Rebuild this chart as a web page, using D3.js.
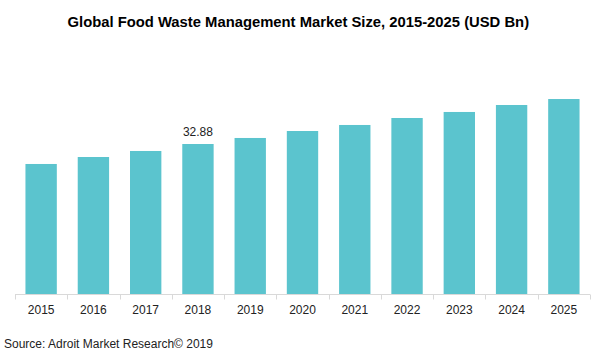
<!DOCTYPE html>
<html><head><meta charset="utf-8">
<script src="https://cdn.jsdelivr.net/npm/d3@7"></script>
<style>body{margin:0;background:#fff}svg{display:block}text{font-family:"Liberation Sans",Arial,sans-serif}</style>
</head><body><svg id="c" width="607" height="364"></svg>
<script>
const years = ["2015","2016","2017","2018","2019","2020","2021","2022","2023","2024","2025"];
const values = [28.5,30.03,31.35,32.88,34.2,35.73,37.05,38.58,39.9,41.43,42.74];
const labeled = ["2018"];
const title = "Global Food Waste Management Market Size, 2015-2025 (USD Bn)";
const source = "Source: Adroit Market Research© 2019";

const svg = d3.select("#c");
const x = d3.scaleBand().domain(years).range([15,590]).paddingInner(0.4).paddingOuter(0.2);
const y = d3.scaleLinear().domain([0,32.88]).range([294,144]);

svg.append("text").attr("x",298.3).attr("y",26.5).attr("text-anchor","middle")
  .attr("font-size",14.8).attr("font-weight","bold").attr("fill","#000").text(title);

svg.append("g").selectAll("rect").data(years).join("rect")
  .attr("x",d=>x(d)).attr("width",x.bandwidth())
  .attr("y",(d,i)=>y(values[i])).attr("height",(d,i)=>y(0)-y(values[i]))
  .attr("fill","#5bc4ce");

svg.append("g").selectAll("text").data(years.filter(d=>labeled.includes(d))).join("text")
  .attr("x",d=>x(d)+x.bandwidth()/2).attr("y",d=>y(values[years.indexOf(d)])-8.5)
  .attr("text-anchor","middle").attr("font-size",12).attr("fill","#222").text(d=>values[years.indexOf(d)].toFixed(2));

const xs = d3.scalePoint().domain(d3.range(years.length+1)).range([15,590]);
const ax = svg.append("g").attr("transform","translate(0,294.5)");
ax.append("line").attr("x1",15).attr("x2",590).attr("stroke","#d9d9d9");
ax.selectAll("line.t").data(d3.range(years.length+1)).join("line").attr("class","t")
  .attr("x1",d=>Math.round(xs(d))+0.5).attr("x2",d=>Math.round(xs(d))+0.5).attr("y1",0).attr("y2",5).attr("stroke","#d9d9d9");
ax.selectAll("text").data(years).join("text")
  .attr("x",d=>x(d)+x.bandwidth()/2).attr("y",19).attr("text-anchor","middle")
  .attr("font-size",12).attr("fill","#222").text(d=>d);

svg.append("text").attr("x",4).attr("y",348).attr("font-size",12).attr("fill","#222").text(source);
</script></body></html>
